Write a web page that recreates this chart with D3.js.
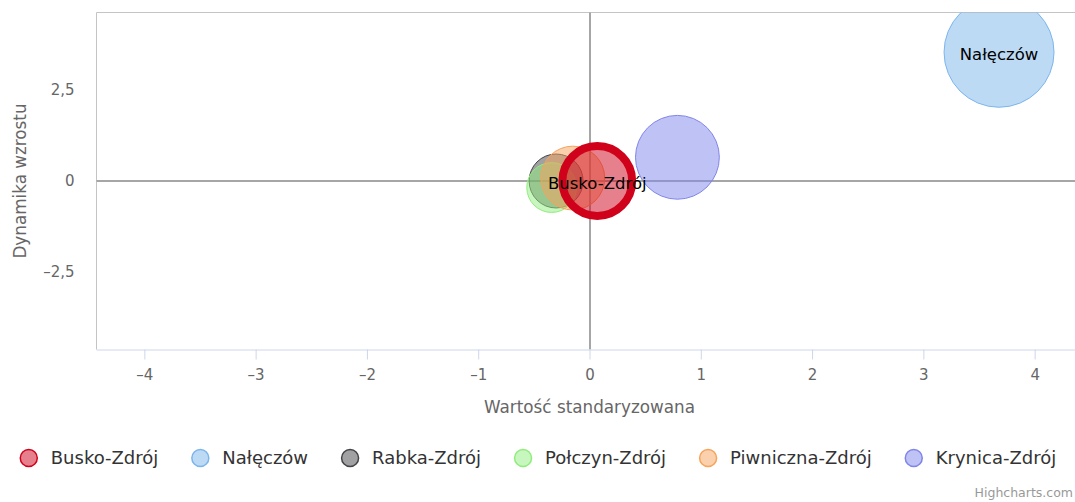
<!DOCTYPE html>
<html>
<head>
<meta charset="utf-8">
<script src="https://cdn.jsdelivr.net/npm/d3@7"></script>
<style>
  body { margin: 0; background: #fff; }
  svg { font-family: "DejaVu Sans", sans-serif; display: block; }
</style>
</head>
<body>
<svg id="chart"></svg>
<script>
// Chart data
const towns = ["Busko-Zdrój", "Nałęczów", "Rabka-Zdrój", "Połczyn-Zdrój", "Piwniczna-Zdrój", "Krynica-Zdrój"];
const xValues = [0.07, 3.68, -0.30, -0.34, -0.15, 0.79];   // Wartość standaryzowana
const yValues = [0.00, 3.53, 0.00, -0.18, 0.08, 0.65];     // Dynamika wzrostu
const zValues = [1.22, 3.03, 0.73, 0.62, 1.02, 1.76];      // bubble size
const colors = ["#d0021b", "#7cb5ec", "#434348", "#90ed7d", "#f7a35c", "#8085e9"];
const xTicks = [-4, -3, -2, -1, 0, 1, 2, 3, 4];
const yTicks = [-2.5, 0, 2.5];

const width = 1075, height = 502;
const plot = { left: 96.5, top: 12.5, right: 1082.5, bottom: 349.5 };

const svg = d3.select("#chart").attr("width", width).attr("height", height);

const x = d3.scaleLinear().domain([-4.43, 4.43]).range([plot.left, plot.right]);
const y = d3.scaleLinear().domain([-4.62, 4.62]).range([plot.bottom, plot.top]);
const r = d3.scaleSqrt().domain([0, d3.max(zValues)]).range([0, 55]);

const fmt = v => String(v).replace(".", ",").replace("-", "\u2013");

// Clip for bubbles
svg.append("clipPath").attr("id", "plotClip")
   .append("rect")
   .attr("x", plot.left).attr("y", plot.top)
   .attr("width", plot.right - plot.left).attr("height", plot.bottom - plot.top);

// Plot border (left + top)
svg.append("path")
   .attr("d", `M${plot.left},${plot.bottom} V${plot.top} H${width}`)
   .attr("fill", "none").attr("stroke", "#c4c4c4").attr("stroke-width", 1);

// Zero plot lines
svg.append("line")
   .attr("x1", Math.round(x(0))).attr("x2", Math.round(x(0))).attr("y1", plot.top).attr("y2", plot.bottom)
   .attr("stroke", "#a6a6a6").attr("stroke-width", 2);
svg.append("line")
   .attr("x1", plot.left).attr("x2", width).attr("y1", Math.round(y(0))).attr("y2", Math.round(y(0)))
   .attr("stroke", "#a6a6a6").attr("stroke-width", 2);

// X axis
const xAxis = svg.append("g").attr("transform", `translate(0,${plot.bottom})`)
   .call(d3.axisBottom(x).tickValues(xTicks).tickSize(10).tickPadding(8).tickFormat(fmt));
xAxis.select(".domain").attr("stroke", "#ccd6eb").attr("d", `M${plot.left},0.5H${width}`);
xAxis.selectAll(".tick line").attr("stroke", "#ccd6eb");
xAxis.selectAll(".tick text").attr("fill", "#666").style("font-size", "15px")
   .style("font-family", "DejaVu Sans").attr("dy", "0.8em");

// Y axis (labels only)
const yAxis = svg.append("g").attr("transform", `translate(${plot.left},0)`)
   .call(d3.axisLeft(y).tickValues(yTicks).tickSize(0).tickPadding(22).tickFormat(fmt));
yAxis.select(".domain").remove();
yAxis.selectAll(".tick text").attr("fill", "#666").style("font-size", "15px")
   .style("font-family", "DejaVu Sans");

// Axis titles
svg.append("text")
   .attr("x", (plot.left + plot.right) / 2).attr("y", 413)
   .attr("text-anchor", "middle").attr("fill", "#666").style("font-size", "16.8px")
   .text("Wartość standaryzowana");
svg.append("text")
   .attr("transform", `translate(26,${y(0)}) rotate(-90)`)
   .attr("text-anchor", "middle").attr("fill", "#666").style("font-size", "16.8px")
   .text("Dynamika wzrostu");

// Bubbles: Busko-Zdrój drawn last, on top
const order = [1, 2, 3, 4, 5, 0];
const bubbles = svg.append("g").attr("clip-path", "url(#plotClip)");
bubbles.selectAll("circle")
   .data(order)
   .enter().append("circle")
   .attr("cx", i => x(xValues[i]))
   .attr("cy", i => y(yValues[i]))
   .attr("r", i => r(zValues[i]))
   .attr("fill", i => colors[i])
   .attr("fill-opacity", 0.5)
   .attr("stroke", i => colors[i])
   .attr("stroke-width", i => i === 0 ? 8 : 1);

// Data labels
svg.append("g").selectAll("text")
   .data([1, 0])
   .enter().append("text")
   .attr("x", i => x(xValues[i]))
   .attr("y", i => y(yValues[i]) + 8)
   .attr("text-anchor", "middle")
   .attr("fill", "#000")
   .style("font-size", "16.5px")
   .text(i => towns[i]);

// Legend
const legend = svg.append("g");
const items = legend.selectAll("g").data(towns).enter().append("g");
items.append("circle")
   .attr("r", 8.5).attr("cy", 0)
   .attr("fill", (d, i) => colors[i]).attr("fill-opacity", 0.5)
   .attr("stroke", (d, i) => colors[i]).attr("stroke-width", 1.5);
items.append("text")
   .attr("x", 22).attr("y", 0).attr("dy", "0.36em")
   .attr("fill", "#333").style("font-size", "18px")
   .text(d => d);

let pos = 0;
const offsets = [];
items.each(function() {
  offsets.push(pos);
  const w = d3.select(this).select("text").node().getComputedTextLength();
  pos += 22 + w + 42;
});
const total = pos - 42 + 9;
const start = 538 - total / 2 + 9;
items.attr("transform", (d, i) => `translate(${start + offsets[i]},458)`);

// Credits
svg.append("text")
   .attr("x", 1073).attr("y", 497).attr("text-anchor", "end")
   .attr("fill", "#999").style("font-size", "12.5px")
   .text("Highcharts.com");
</script>
</body>
</html>
